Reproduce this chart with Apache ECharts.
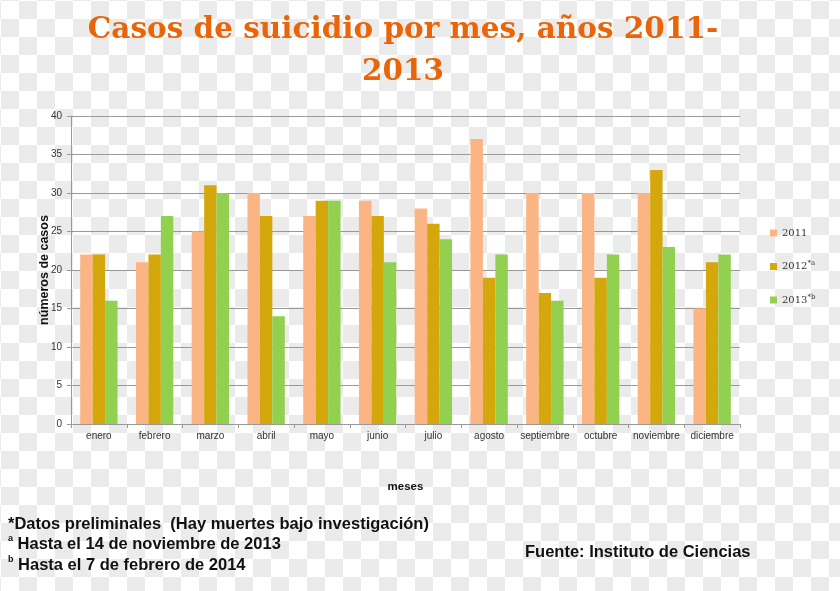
<!DOCTYPE html>
<html><head><meta charset="utf-8">
<script src="https://cdn.jsdelivr.net/npm/echarts@6/dist/echarts.min.js"></script>
<style>
html,body{margin:0;padding:0;}
body{width:840px;height:591px;background-color:#fff;
background-image:conic-gradient(#ebebeb 25%, #fff 0 50%, #ebebeb 0 75%, #fff 0);
background-size:36px 36px;background-position:1px 1px;}
#c{width:840px;height:591px;}
</style></head><body>
<div id="c"></div>
<script>
const months = ['enero','febrero','marzo','abril','mayo','junio','julio','agosto','septiembre','octubre','noviembre','diciembre'];
const s2011 = [22,21,25,30,27,29,28,37,30,30,30,15];
const s2012 = [22,22,31,27,29,27,26,19,17,19,33,21];
const s2013 = [16,27,30,14,29,21,24,22,16,22,23,22];
const chart = echarts.init(document.getElementById('c'), null, {renderer:'canvas'});
const sup = {fontFamily:'DejaVu Serif', fontSize:7, color:'#333', verticalAlign:'top', padding:[0,0,6,0]};
chart.setOption({
  backgroundColor:'transparent',
  animation:false,
  title:[{
    text:'Casos de suicidio por mes, años 2011-\n2013',
    left:398, top:4, textAlign:'center',
    textStyle:{fontFamily:'DejaVu Serif', fontWeight:'bold', fontSize:29.5, color:'#E8650A', lineHeight:42}
  },{
    text:'*Datos preliminales  (Hay muertes bajo investigación)\n{s|a} Hasta el 14 de noviembre de 2013\n{s|b} Hasta el 7 de febrero de 2014',
    left:3, top:509,
    textStyle:{fontFamily:'Liberation Sans', fontWeight:'bold', fontSize:16.5, color:'#111', lineHeight:20.5,
      rich:{s:{fontSize:9, fontFamily:'Liberation Sans', color:'#111', verticalAlign:'top'}}}
  },{
    text:'Fuente: Instituto de Ciencias',
    left:520, top:539,
    textStyle:{fontFamily:'Liberation Sans', fontWeight:'bold', fontSize:16.5, color:'#111'}
  }],
  legend:{
    orient:'vertical', left:765, top:223, itemGap:22, itemWidth:7, itemHeight:7,
    icon:'rect',
    data:['2011','2012','2013'],
    formatter:function(n){ return n==='2011' ? '{t|2011}' : (n==='2012' ? '{t|2012}{s|*a}' : '{t|2013}{s|*b}'); },
    textStyle:{rich:{t:{fontFamily:'DejaVu Serif', fontSize:10, color:'#333'}, s:sup}}
  },
  grid:{left:71, right:100, top:116, bottom:167},
  xAxis:{
    type:'category', data:months,
    name:'meses', nameLocation:'middle', nameGap:57,
    nameTextStyle:{fontFamily:'Liberation Sans', fontWeight:'bold', fontSize:11.5, color:'#111'},
    axisLine:{lineStyle:{color:'#999'}},
    axisTick:{show:true, length:4, lineStyle:{color:'#999'}},
    axisLabel:{interval:0, fontFamily:'Liberation Sans', fontSize:10, color:'#333', margin:7}
  },
  yAxis:{
    type:'value', min:0, max:40, interval:5,
    name:'números de casos', nameLocation:'middle', nameGap:20, nameMoveOverlap:false,
    nameTextStyle:{fontFamily:'Liberation Sans', fontWeight:'bold', fontSize:12.5, color:'#111'},
    axisLine:{show:true, lineStyle:{color:'#999'}},
    axisTick:{show:true, length:4, lineStyle:{color:'#999'}},
    axisLabel:{fontFamily:'Liberation Sans', fontSize:10, color:'#333', margin:9},
    splitLine:{lineStyle:{color:'#999'}}
  },
  series:[
    {name:'2011', type:'bar', data:s2011, itemStyle:{color:'#FBB584'}, barGap:'0%', barCategoryGap:'33%'},
    {name:'2012', type:'bar', data:s2012, itemStyle:{color:'#D4A80C'}, barGap:'0%', barCategoryGap:'33%'},
    {name:'2013', type:'bar', data:s2013, itemStyle:{color:'#92D050'}, barGap:'0%', barCategoryGap:'33%'}
  ]
});
</script></body></html>
